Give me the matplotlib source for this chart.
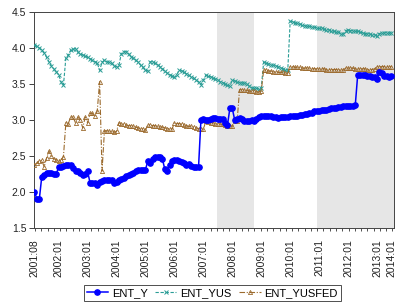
import numpy as np
import matplotlib
matplotlib.use("Agg")
import matplotlib.pyplot as plt

plt.rcParams['font.family'] = ['Liberation Sans', 'DejaVu Sans']

# monthly observations, index 0 = first month shown
ent_y = [2.00, 1.90, 1.90, 2.21, 2.24, 2.26, 2.27, 2.27, 2.25, 2.25,
         2.34, 2.35, 2.36, 2.38, 2.38, 2.37, 2.33, 2.29, 2.29, 2.27,
         2.24, 2.25, 2.29, 2.13, 2.12, 2.12, 2.10, 2.14, 2.15, 2.17,
         2.17, 2.17, 2.16, 2.13, 2.14, 2.17, 2.18, 2.20, 2.22, 2.24,
         2.25, 2.26, 2.29, 2.30, 2.30, 2.30, 2.31, 2.43, 2.40, 2.46,
         2.49, 2.49, 2.48, 2.46, 2.32, 2.29, 2.38, 2.43, 2.45, 2.45,
         2.43, 2.41, 2.40, 2.38, 2.39, 2.36, 2.35, 2.34, 2.34, 3.00,
         3.01, 3.00, 3.00, 3.02, 3.03, 3.03, 3.02, 3.02, 3.01, 2.96,
         2.93, 3.16, 3.16, 3.00, 3.02, 3.03, 3.01, 2.98, 2.99, 2.99,
         3.00, 2.99, 3.02, 3.04, 3.05, 3.06, 3.06, 3.05, 3.05, 3.04,
         3.04, 3.03, 3.04, 3.04, 3.04, 3.04, 3.05, 3.06, 3.05, 3.05,
         3.07, 3.07, 3.08, 3.08, 3.09, 3.10, 3.12, 3.12, 3.13, 3.14,
         3.14, 3.14, 3.15, 3.16, 3.17, 3.17, 3.18, 3.18, 3.19, 3.19,
         3.19, 3.20, 3.20, 3.21, 3.63, 3.63, 3.62, 3.62, 3.61, 3.61,
         3.60, 3.59, 3.57, 3.66, 3.65, 3.61, 3.61, 3.60, 3.61]

ent_yus = [4.04, 4.02, 4.00, 3.97, 3.93, 3.87, 3.81, 3.75, 3.71, 3.67,
           3.63, 3.53, 3.48, 3.86, 3.90, 3.97, 3.98, 3.99, 3.94, 3.92,
           3.90, 3.89, 3.87, 3.85, 3.83, 3.81, 3.79, 3.69, 3.80, 3.83,
           3.81, 3.80, 3.79, 3.75, 3.74, 3.76, 3.92, 3.95, 3.95, 3.92,
           3.88, 3.86, 3.83, 3.80, 3.76, 3.73, 3.69, 3.68, 3.81, 3.80,
           3.79, 3.77, 3.74, 3.71, 3.68, 3.65, 3.63, 3.61, 3.59, 3.63,
           3.69, 3.68, 3.67, 3.64, 3.62, 3.60, 3.58, 3.55, 3.53, 3.49,
           3.55, 3.62, 3.61, 3.60, 3.58, 3.57, 3.56, 3.53, 3.52, 3.50,
           3.48, 3.47, 3.55, 3.54, 3.53, 3.52, 3.52, 3.51, 3.50, 3.47,
           3.45, 3.44, 3.44, 3.43, 3.44, 3.80, 3.79, 3.78, 3.77, 3.76,
           3.75, 3.74, 3.72, 3.71, 3.70, 3.69, 4.37, 4.36, 4.35, 4.34,
           4.33, 4.32, 4.31, 4.30, 4.30, 4.29, 4.29, 4.28, 4.27, 4.27,
           4.26, 4.25, 4.25, 4.24, 4.23, 4.22, 4.22, 4.20, 4.19, 4.24,
           4.25, 4.24, 4.24, 4.23, 4.23, 4.22, 4.21, 4.20, 4.20, 4.19,
           4.18, 4.18, 4.17, 4.20, 4.21, 4.21, 4.21, 4.21, 4.21]

ent_yusfed = [2.38, 2.40, 2.43, 2.44, 2.35, 2.47, 2.57, 2.50, 2.46, 2.45,
              2.43, 2.44, 2.49, 2.96, 2.95, 3.04, 3.04, 2.96, 3.04, 3.00,
              2.89, 3.04, 2.96, 3.09, 3.09, 3.05, 3.12, 3.53, 2.29, 2.85,
              2.85, 2.84, 2.84, 2.83, 2.84, 2.96, 2.95, 2.94, 2.93, 2.92,
              2.92, 2.91, 2.90, 2.89, 2.88, 2.87, 2.86, 2.93, 2.93, 2.92,
              2.92, 2.91, 2.90, 2.90, 2.89, 2.88, 2.88, 2.87, 2.96, 2.95,
              2.95, 2.94, 2.93, 2.92, 2.91, 2.91, 2.90, 2.89, 2.88, 2.87,
              2.87, 2.98, 2.97, 2.96, 2.96, 2.95, 2.95, 2.94, 2.94, 2.93,
              2.92, 2.92, 2.91, 2.98, 2.98, 3.42, 3.42, 3.41, 3.41, 3.40,
              3.40, 3.40, 3.39, 3.39, 3.40, 3.69, 3.69, 3.68, 3.68, 3.67,
              3.67, 3.66, 3.66, 3.66, 3.65, 3.65, 3.74, 3.74, 3.73, 3.73,
              3.73, 3.72, 3.72, 3.72, 3.72, 3.71, 3.71, 3.71, 3.71, 3.71,
              3.71, 3.70, 3.70, 3.70, 3.70, 3.70, 3.70, 3.69, 3.69, 3.72,
              3.72, 3.72, 3.72, 3.71, 3.71, 3.71, 3.71, 3.71, 3.70, 3.70,
              3.70, 3.71, 3.74, 3.74, 3.74, 3.74, 3.74, 3.74, 3.74]

tick_pos = [0, 10, 22, 34, 46, 58, 70, 82, 94, 106, 118, 130, 142, 148]
tick_labels = ["2001:08", "2002:01", "2003:01", "2004:01", "2005:01",
               "2006:01", "2007:01", "2008:01", "2009:01", "2010:01",
               "2011:01", "2012:01", "2013:01", "2014:01"]
shaded = [(75.5, 90.9), (117.2, 149.5)]

x = np.arange(len(ent_y))

fig = plt.figure(figsize=(3.96, 3.06), dpi=100)
ax = fig.add_axes([0.0859, 0.255, 0.91, 0.706])

for a, b in shaded:
    ax.axvspan(a, b, color="#e6e6e6", lw=0, zorder=0)

ax.plot(x, ent_y, color="#0000ff", lw=1.1, marker="o", ms=3.8,
        mec="#0000ff", label="ENT_Y", zorder=4)
ax.plot(x, ent_yus, color="#2a9d96", lw=0.8, ls=(0, (3, 1.5)), marker="x",
        ms=3.5, mew=0.7, label="ENT_YUS", zorder=3)
ax.plot(x, ent_yusfed, color="#9c6b2e", lw=0.8, ls=(0, (5, 1.5, 1, 1.5)),
        marker="^", ms=3, mfc="none", mew=0.6, label="ENT_YUSFED", zorder=3)

ax.set_xlim(-0.2, 149.2)
ax.set_ylim(1.5, 4.5)
ax.set_yticks([1.5, 2.0, 2.5, 3.0, 3.5, 4.0, 4.5])
ax.set_yticklabels(["1.5", "2.0", "2.5", "3.0", "3.5", "4.0", "4.5"])
ax.set_xticks(tick_pos)
ax.set_xticklabels(tick_labels, rotation=90)
ax.set_xticks(np.arange(0.2, 149, 2.6), minor=True)
ax.tick_params(axis="x", which="major", length=0, pad=8, labelsize=7.5,
               colors="#222222")
ax.tick_params(axis="x", which="minor", length=2.5, width=0.6,
               direction="out", colors="#333333")
ax.tick_params(axis="y", length=3.5, width=0.6, direction="out",
               labelsize=7.5, colors="#222222", pad=2)
for s in ax.spines.values():
    s.set_color("#444444")
    s.set_linewidth(0.7)

leg = fig.legend(loc="center", bbox_to_anchor=(0.536, 0.043), ncol=3,
                 fontsize=8, frameon=True, fancybox=False, handlelength=1.9,
                 columnspacing=0.7, handletextpad=0.35, borderpad=0.25)
leg.get_frame().set_edgecolor("#222222")
leg.get_frame().set_linewidth(0.7)

fig.savefig("out.png", dpi=100)
